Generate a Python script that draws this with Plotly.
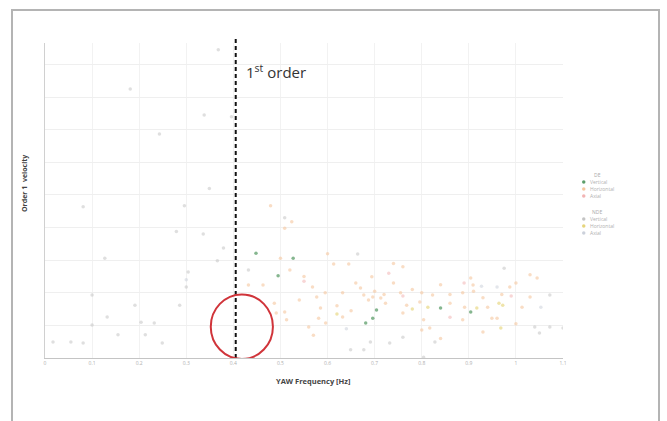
import plotly.graph_objects as go

# ---------------- data (x in Hz, y in velocity units) ----------------
de_vertical_x = [0.495, 0.840, 0.904, 0.704, 0.696, 0.681, 0.448, 0.527]
de_vertical_y = [2.52, 1.53, 1.41, 1.47, 1.22, 1.07, 3.21, 3.06]

de_horizontal_x = [0.479, 0.524, 0.509, 0.500, 0.645, 0.694, 1.030, 1.045, 0.904, 0.909,
                   0.987, 0.432, 0.595, 0.677, 0.696, 0.891, 0.960, 0.613, 0.568, 0.577,
                   0.632, 0.713, 0.755, 0.800, 0.823, 0.887, 1.030, 0.687, 0.723, 0.768,
                   0.796, 0.860, 0.940, 1.013, 0.585, 0.581, 0.596, 0.509, 0.513, 0.491,
                   0.487, 0.540, 0.632, 0.760, 0.804, 0.800, 0.817, 0.887, 0.949, 0.463,
                   0.740, 0.760, 0.660, 0.670, 0.700, 0.720, 0.740, 0.780, 0.840, 0.860,
                   0.910, 0.930, 0.970, 1.000, 0.620, 0.650, 0.550, 0.520, 0.600, 0.560,
                   0.570, 0.840, 0.930, 1.000]
de_horizontal_y = [4.67, 4.18, 3.98, 3.06, 2.88, 2.49, 2.55, 2.45, 2.45, 2.24,
                   2.18, 2.24, 2.00, 1.93, 1.87, 1.56, 1.22, 2.88, 2.18, 1.87,
                   2.00, 1.84, 2.00, 2.00, 1.93, 2.00, 1.87, 1.78, 1.68, 1.62,
                   1.72, 1.68, 1.56, 1.56, 1.53, 1.22, 1.07, 1.41, 1.17, 1.38,
                   1.68, 1.78, 1.26, 1.38, 1.17, 0.86, 0.92, 1.17, 1.22, 2.24,
                   2.90, 2.80, 2.30, 2.15, 2.05, 1.95, 2.30, 2.10, 2.25, 1.95,
                   2.05, 1.85, 1.95, 2.30, 1.60, 1.45, 2.50, 2.70, 3.20, 0.95,
                   0.70, 0.60, 0.80, 1.05]

de_axial_x = [0.890, 0.760, 0.730, 0.860, 0.990, 0.550]
de_axial_y = [2.30, 1.90, 2.60, 1.25, 1.90, 2.35]

nde_vertical_x = [0.368, 0.181, 0.338, 0.396, 0.243, 0.349, 0.081, 0.296, 0.279, 0.336,
                  0.379, 0.127, 0.366, 0.664, 0.975, 0.304, 0.300, 0.100, 0.191, 0.286,
                  0.132, 0.204, 0.232, 0.100, 0.155, 0.213, 0.017, 0.055, 0.081, 0.249,
                  1.072, 1.040, 1.072, 1.100, 1.050, 0.760, 0.732, 0.828, 0.691, 0.649,
                  0.677, 0.804, 0.432, 0.509]
nde_vertical_y = [9.45, 8.25, 7.45, 7.40, 6.87, 5.20, 4.64, 4.67, 3.88, 3.80,
                  3.37, 3.06, 2.98, 3.19, 2.75, 2.64, 2.18, 1.93, 1.62, 1.62,
                  1.26, 1.10, 1.07, 1.01, 0.71, 0.71, 0.49, 0.49, 0.46, 0.46,
                  1.93, 0.95, 0.95, 0.92, 0.77, 0.64, 0.46, 0.49, 0.49, 0.25,
                  0.25, 0.02, 2.70, 4.30]

nde_horizontal_x = [0.964, 0.972, 0.917, 0.813, 0.968, 0.780, 0.620]
nde_horizontal_y = [1.68, 1.62, 1.53, 1.56, 0.92, 1.50, 1.35]

nde_axial_x = [0.927, 0.960, 1.053, 0.640, 0.300]
nde_axial_y = [2.20, 2.18, 1.56, 0.90, 2.40]

x_ticks = [0, 0.1, 0.2, 0.3, 0.4, 0.5, 0.6, 0.7, 0.8, 0.9, 1.0, 1.1]
x_tick_labels = ["0", "0.1", "0.2", "0.3", "0.4", "0.5", "0.6", "0.7", "0.8", "0.9", "1", "1.1"]
first_order_hz = 0.405
legend_groups = ["DE", "NDE"]
legend_names = ["Vertical", "Horizontal", "Axial"]

# ---------------- figure ----------------
W, H = 667, 421
L, R, T, B = 45, 104, 43, 63
PW, PH = W - L - R, H - T - B


def px_x(px):
    return (px - L) / PW


def px_y(py):
    return (H - B - py) / PH


fig = go.Figure()

series = [
    ("DE", "Vertical", de_vertical_x, de_vertical_y, "#5c9e6a", 0.75),
    ("DE", "Horizontal", de_horizontal_x, de_horizontal_y, "#f5c79e", 0.6),
    ("DE", "Axial", de_axial_x, de_axial_y, "#f2b4b4", 0.55),
    ("NDE", "Vertical", nde_vertical_x, nde_vertical_y, "#c4c4c4", 0.55),
    ("NDE", "Horizontal", nde_horizontal_x, nde_horizontal_y, "#e6d57c", 0.65),
    ("NDE", "Axial", nde_axial_x, nde_axial_y, "#ccd1db", 0.55),
]
for grp, name, xs, ys, col, op in series:
    fig.add_trace(go.Scatter(
        x=xs, y=ys, mode="markers", name=grp + " " + name, showlegend=False,
        marker=dict(size=3.5, color=col, opacity=op, line=dict(width=0)),
    ))

# manual compact legend (right side)
legend_title_y = {"DE": 175, "NDE": 212}
legend_marker_colors = {"DE": ["#5c9e6a", "#f5c79e", "#f2b4b4"],
                        "NDE": ["#c4c4c4", "#e6d57c", "#ccd1db"]}
for g in legend_groups:
    ty = legend_title_y[g]
    fig.add_annotation(text=g, xref="paper", yref="paper", x=px_x(597), y=px_y(ty),
                       xanchor="center", yanchor="middle", showarrow=False,
                       font=dict(size=5, color="#aaa", family="Open Sans"))
    for i, nm in enumerate(legend_names):
        ey = ty + 7 + 7 * i
        fig.add_shape(type="circle", xref="paper", yref="paper",
                      x0=px_x(582), x1=px_x(585.5), y0=px_y(ey + 1.75), y1=px_y(ey - 1.75),
                      fillcolor=legend_marker_colors[g][i], line=dict(width=0))
        fig.add_annotation(text=nm, xref="paper", yref="paper", x=px_x(588), y=px_y(ey),
                           xanchor="left", yanchor="middle", showarrow=False,
                           font=dict(size=5, color="#b0b0b0", family="Open Sans"))

# first-order dashed line
fig.add_shape(type="line", xref="x", yref="paper", x0=first_order_hz, x1=first_order_hz,
              y0=0, y1=px_y(37), line=dict(color="#111", width=2, dash="4px,3px"))
# red circle
fig.add_shape(type="circle", xref="x", yref="y", x0=0.352, x1=0.484, y0=-0.03, y1=1.95,
              line=dict(color="#d0343a", width=2))
# outer slide border
fig.add_shape(type="rect", xref="paper", yref="paper", x0=px_x(12), x1=px_x(659),
              y0=px_y(430), y1=px_y(10), line=dict(color="#b4b4b4", width=2), layer="below")

fig.add_annotation(text="1<sup>st</sup> order", xref="paper", yref="paper",
                   x=px_x(244), y=px_y(71), xanchor="left", yanchor="middle",
                   showarrow=False, font=dict(size=15, color="#333", family="Open Sans"))
fig.add_annotation(text="<b>YAW Frequency [Hz]</b>", xref="paper", yref="paper",
                   x=px_x(313), y=px_y(381), xanchor="center", yanchor="middle",
                   showarrow=False, font=dict(size=7.5, color="#444", family="Open Sans"))
fig.add_annotation(text="<b>Order 1  velocity</b>", xref="paper", yref="paper",
                   x=px_x(24), y=px_y(184), xanchor="center", yanchor="middle", textangle=-90,
                   showarrow=False, font=dict(size=7, color="#444", family="Open Sans"))

fig.update_layout(
    width=W, height=H,
    margin=dict(l=L, r=R, t=T, b=B),
    paper_bgcolor="white", plot_bgcolor="white",
    showlegend=False,
    xaxis=dict(range=[0, 1.1], tickvals=x_ticks, ticktext=x_tick_labels,
               tickfont=dict(size=5, color="#b0b0b0"), showgrid=True, gridcolor="#f2f2f2",
               showline=True, linecolor="#c4c4c4", linewidth=1, zeroline=False, ticks=""),
    yaxis=dict(range=[0, 9.66], dtick=1, showticklabels=False, showgrid=True,
               gridcolor="#efefef", showline=True, linecolor="#d0d0d0", linewidth=1,
               zeroline=False, ticks=""),
)

fig.write_html("out.html", config={"displayModeBar": False},
               post_script="document.body.style.margin='0';")
